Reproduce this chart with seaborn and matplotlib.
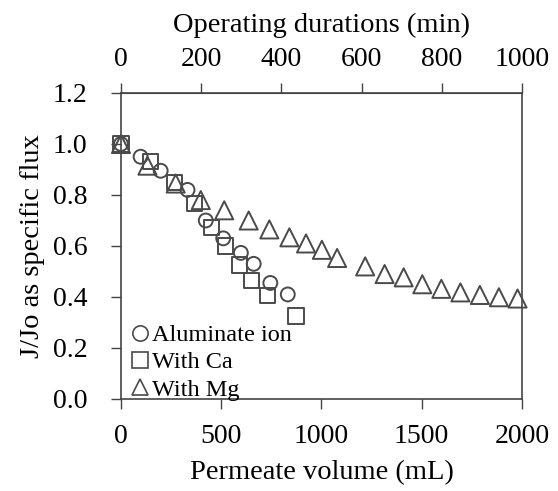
import pandas as pd
import seaborn as sns
import matplotlib.pyplot as plt
from matplotlib.lines import Line2D

# Permeate volume (mL) and normalised flux J/Jo for each condition
vol_al = [0, 98, 198, 332, 423, 510, 598, 662, 745, 832]
flux_al = [1.0, 0.95, 0.895, 0.82, 0.70, 0.63, 0.573, 0.53, 0.455, 0.41]

vol_ca = [0, 148, 268, 365, 452, 523, 590, 652, 732, 873]
flux_ca = [1.0, 0.93, 0.85, 0.768, 0.673, 0.60, 0.525, 0.464, 0.405, 0.325]

vol_mg = [0, 132, 273, 398, 515, 637, 740, 840, 923, 1002,
          1078, 1218, 1315, 1410, 1503, 1598, 1693, 1790, 1885, 1978]
flux_mg = [1.0, 0.915, 0.845, 0.78, 0.74, 0.70, 0.665, 0.634, 0.61, 0.585,
           0.553, 0.52, 0.49, 0.477, 0.45, 0.432, 0.418, 0.408, 0.399, 0.394]

labels = ["Aluminate ion", "With Ca", "With Mg"]
markers = ["o", "s", "^"]

df = pd.concat([
    pd.DataFrame({"volume": vol_al, "flux": flux_al, "series": labels[0]}),
    pd.DataFrame({"volume": vol_ca, "flux": flux_ca, "series": labels[1]}),
    pd.DataFrame({"volume": vol_mg, "flux": flux_mg, "series": labels[2]}),
])

sns.set_style("ticks")
plt.rcParams['font.family'] = ['Liberation Serif', 'DejaVu Serif']
plt.rcParams['text.color'] = 'black'
plt.rcParams['axes.labelcolor'] = 'black'
plt.rcParams['xtick.color'] = '#444444'
plt.rcParams['ytick.color'] = '#444444'
plt.rcParams['xtick.labelcolor'] = 'black'
plt.rcParams['ytick.labelcolor'] = 'black'

edge = "#4a4a4a"
fig = plt.figure(figsize=(5.58, 4.91), dpi=100)
ax = fig.add_axes([0.2168, 0.1874, 0.7186, 0.6232])

sizes = {"o": 100, "s": 121, "^": 170}
for lab, mk in zip(labels, markers):
    sub = df[df.series == lab]
    sns.scatterplot(data=sub, x="volume", y="flux", marker=mk, s=sizes[mk],
                    facecolors="none", edgecolors=edge, linewidth=1.4,
                    clip_on=False, zorder=3, ax=ax)

ax.set_xlim(0, 2000)
ax.set_ylim(0, 1.2)
ax.set_xticks([0, 500, 1000, 1500, 2000])
ax.set_yticks([0.0, 0.2, 0.4, 0.6, 0.8, 1.0, 1.2])
ax.set_yticklabels(["%.1f" % v for v in ax.get_yticks()])
ax.tick_params(axis="x", labelsize=20, direction="out", length=7, width=1, pad=11)
ax.tick_params(axis="y", labelsize=20, direction="out", length=7, width=1, pad=17)
ax.set_xlabel("Permeate volume (mL)", fontsize=20.5, labelpad=8)
ax.set_ylabel("J/Jo as specific flux", fontsize=20.5, labelpad=6)
for sp in ax.spines.values():
    sp.set_color("#444444")
    sp.set_linewidth(1.2)

# top axis: operating duration
top = ax.secondary_xaxis("top", functions=(lambda x: x / 2, lambda x: x * 2))
top.set_xticks([0, 200, 400, 600, 800, 1000])
top.tick_params(labelsize=20, direction="out", length=7, width=1, pad=8)
top.set_xlabel("Operating durations (min)", fontsize=20.5, labelpad=11)
top.spines["top"].set_color("#444444")

handles = [Line2D([], [], linestyle="none", marker=mk, markersize=11,
                  markerfacecolor="none", markeredgecolor=edge, markeredgewidth=1.2)
           for mk in markers]
ax.legend(handles, labels, loc="lower left", frameon=False, fontsize=17.5,
          handletextpad=0.0, handlelength=1.0, labelspacing=0.22,
          borderaxespad=0.0, borderpad=0.0, bbox_to_anchor=(0.018, -0.006))

fig.savefig("out.png", dpi=100)
